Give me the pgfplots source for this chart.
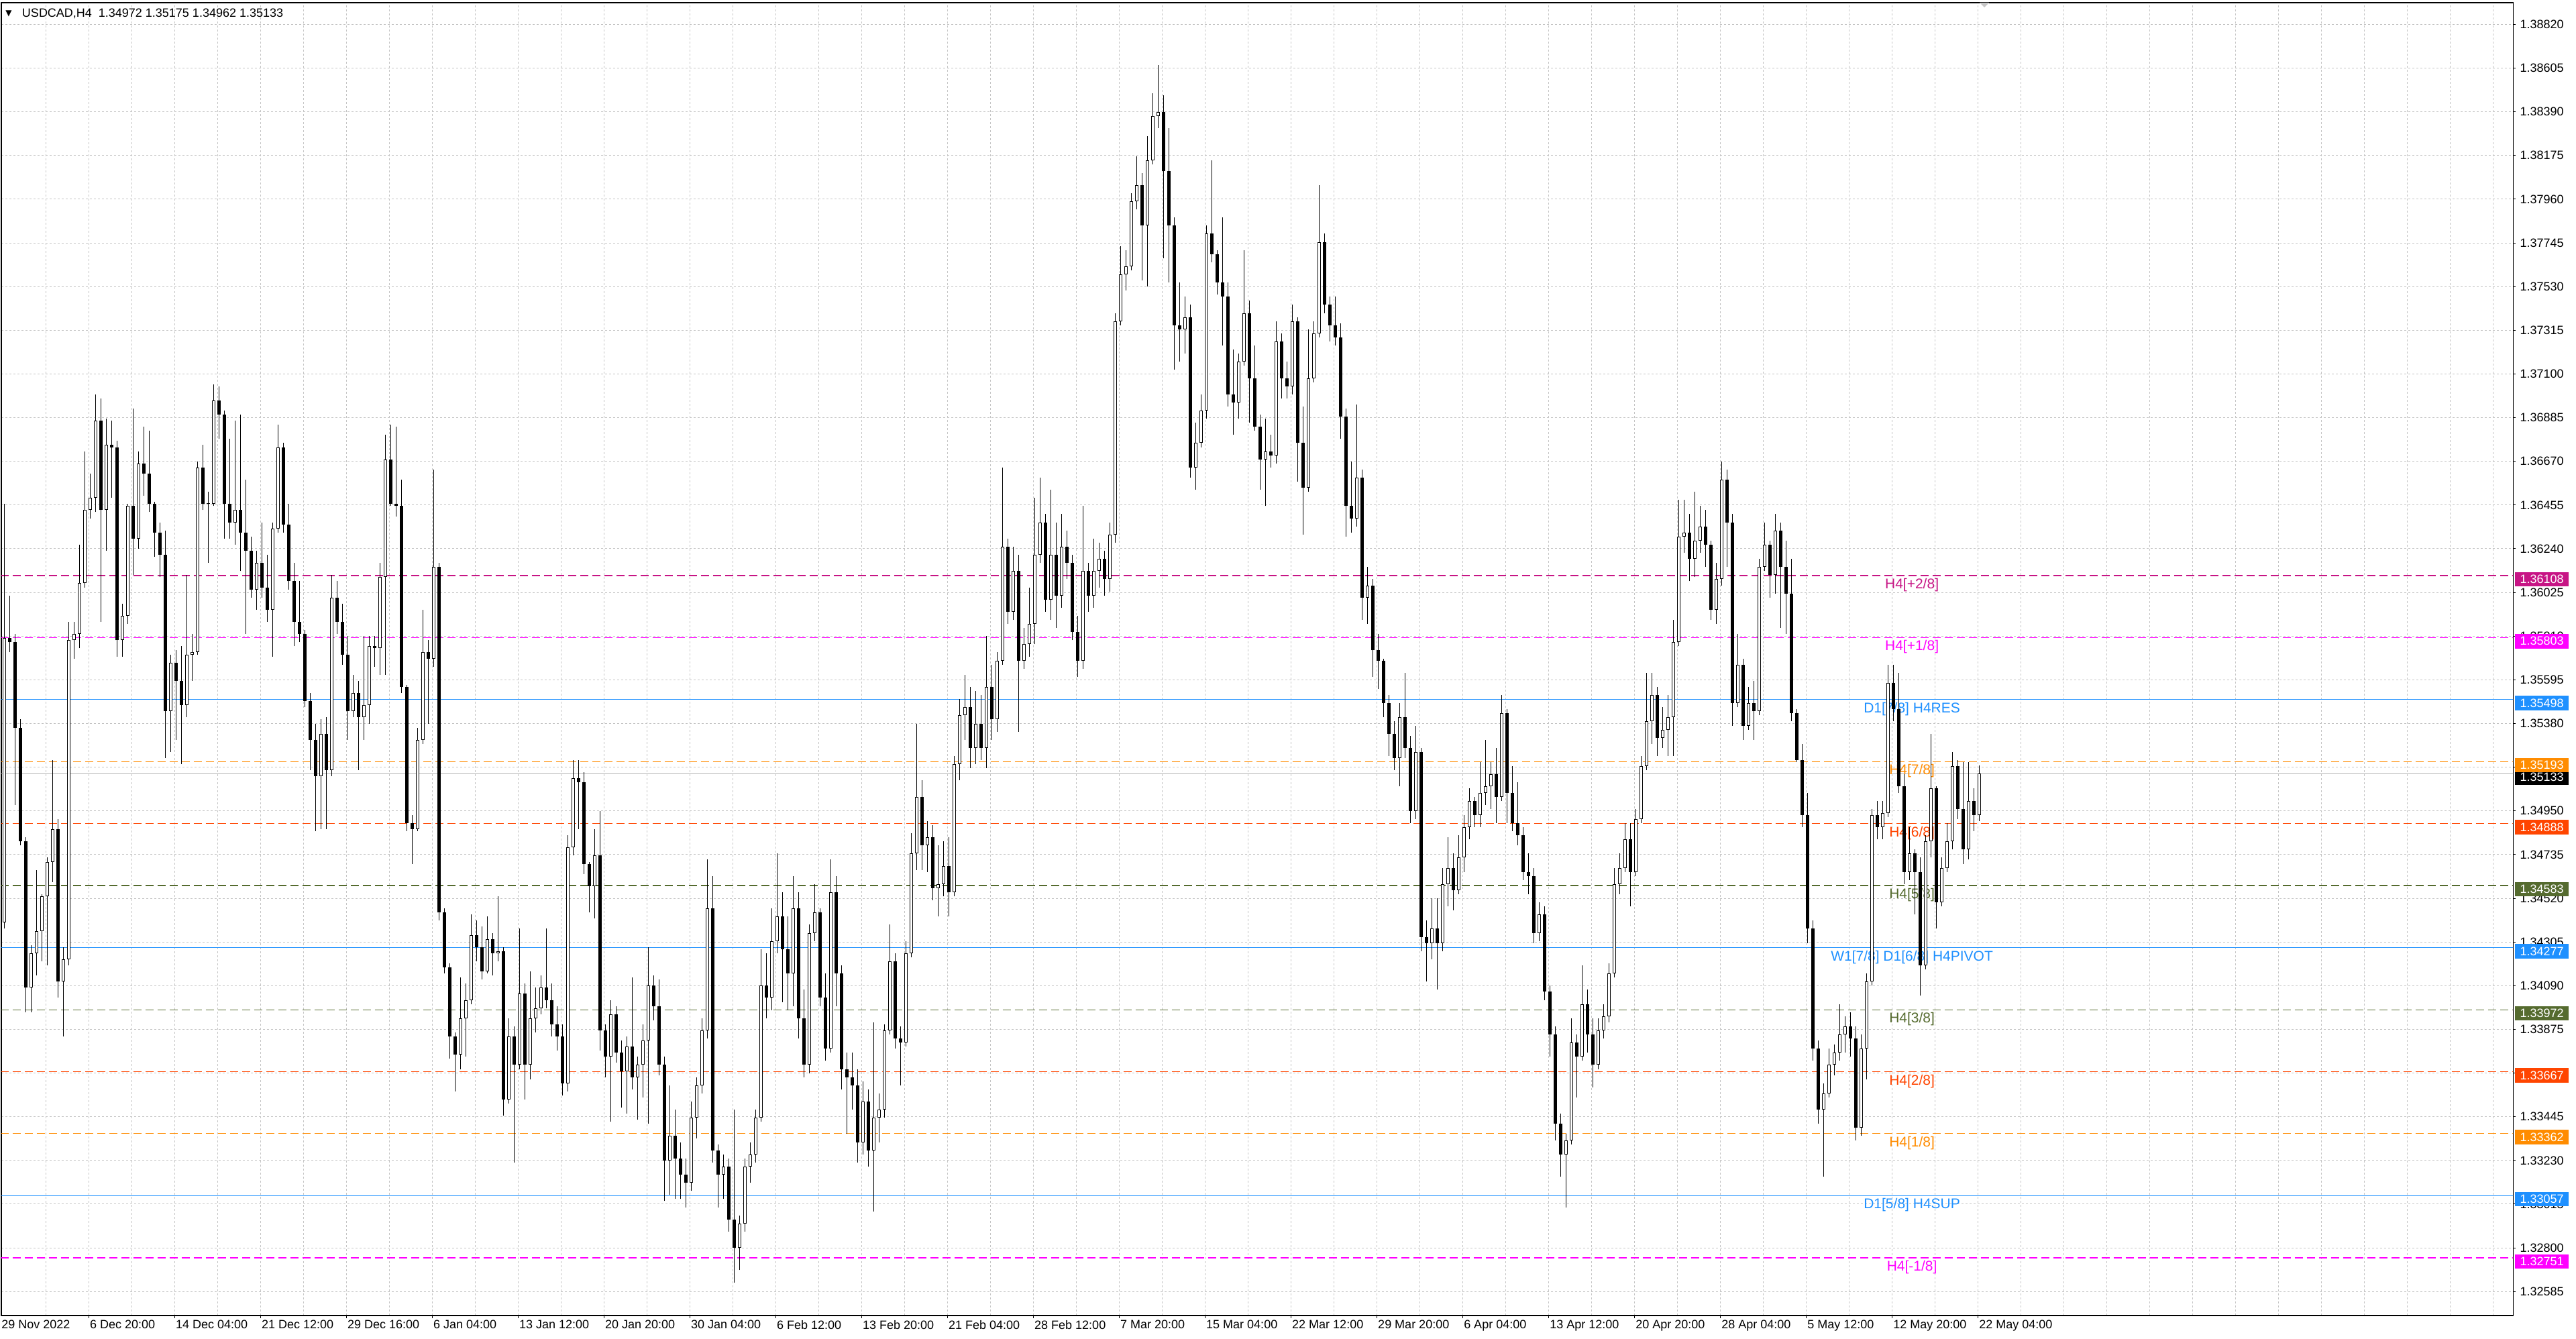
\documentclass[border=0pt]{standalone}
\usepackage{fontspec}
\setmainfont{Liberation Sans}
\newfontfamily\symfont{DejaVu Sans}
\usepackage{pgfplots}
\usepackage{pgfplotstable}
\pgfplotsset{compat=1.18}
\definecolor{mvr}{HTML}{C71585}
\definecolor{mag}{HTML}{FF00FF}
\definecolor{dblue}{HTML}{1E90FF}
\definecolor{dorange}{HTML}{FF8C00}
\definecolor{ored}{HTML}{FF4500}
\definecolor{olive}{HTML}{556B2F}
\definecolor{gridc}{HTML}{C4C4C4}
\definecolor{curc}{HTML}{B4B4B4}

\pgfplotstableread{
o h l c
1.3440 1.3646 1.3437 1.3580
1.3580 1.3601 1.3573 1.3578
1.3578 1.3582 1.3498 1.3536
1.3536 1.3540 1.3478 1.3480
1.3480 1.3482 1.3396 1.3408
1.3408 1.3429 1.3396 1.3425
1.3425 1.3466 1.3414 1.3436
1.3436 1.3454 1.3421 1.3453
1.3453 1.3472 1.3419 1.3470
1.3470 1.3520 1.3460 1.3486
1.3486 1.3491 1.3403 1.3411
1.3411 1.3428 1.3384 1.3422
1.3422 1.3588 1.3419 1.3579
1.3579 1.3588 1.3570 1.3582
1.3582 1.3626 1.3575 1.3607
1.3607 1.3672 1.3605 1.3643
1.3643 1.3661 1.3639 1.3649
1.3649 1.3700 1.3642 1.3687
1.3687 1.3698 1.3588 1.3643
1.3643 1.3688 1.3623 1.3675
1.3675 1.3687 1.3649 1.3674
1.3674 1.3677 1.3571 1.3579
1.3579 1.3597 1.3571 1.3591
1.3591 1.3646 1.3587 1.3645
1.3645 1.3693 1.3611 1.3629
1.3629 1.3672 1.3624 1.3666
1.3666 1.3684 1.3650 1.3661
1.3661 1.3682 1.3642 1.3646
1.3646 1.3647 1.3620 1.3632
1.3632 1.3637 1.3610 1.3621
1.3621 1.3633 1.3521 1.3544
1.3544 1.3572 1.3524 1.3568
1.3568 1.3574 1.3530 1.3559
1.3559 1.3576 1.3518 1.3547
1.3547 1.3611 1.3541 1.3572
1.3572 1.3582 1.3559 1.3573
1.3573 1.3667 1.3572 1.3664
1.3664 1.3675 1.3643 1.3646
1.3646 1.3652 1.3617 1.3646
1.3646 1.3705 1.3645 1.3697
1.3697 1.3704 1.3678 1.3690
1.3690 1.3692 1.3629 1.3646
1.3646 1.3678 1.3629 1.3637
1.3637 1.3687 1.3626 1.3643
1.3643 1.3690 1.3613 1.3632
1.3632 1.3658 1.3582 1.3623
1.3623 1.3630 1.3600 1.3604
1.3604 1.3623 1.3594 1.3617
1.3617 1.3637 1.3600 1.3605
1.3605 1.3621 1.3588 1.3594
1.3594 1.3637 1.3571 1.3634
1.3634 1.3685 1.3632 1.3674
1.3674 1.3676 1.3632 1.3636
1.3636 1.3646 1.3604 1.3608
1.3608 1.3617 1.3576 1.3588
1.3588 1.3608 1.3578 1.3582
1.3582 1.3584 1.3546 1.3549
1.3549 1.3553 1.3515 1.3530
1.3530 1.3538 1.3485 1.3512
1.3512 1.3540 1.3486 1.3533
1.3533 1.3541 1.3486 1.3515
1.3515 1.3611 1.3512 1.3600
1.3600 1.3608 1.3582 1.3588
1.3588 1.3597 1.3567 1.3572
1.3572 1.3581 1.3530 1.3544
1.3544 1.3562 1.3541 1.3553
1.3553 1.3559 1.3515 1.3541
1.3541 1.3581 1.3530 1.3547
1.3547 1.3581 1.3538 1.3576
1.3576 1.3581 1.3566 1.3575
1.3575 1.3617 1.3562 1.3610
1.3610 1.3680 1.3562 1.3668
1.3668 1.3685 1.3645 1.3646
1.3646 1.3684 1.3640 1.3645
1.3645 1.3658 1.3553 1.3556
1.3556 1.3557 1.3485 1.3489
1.3489 1.3493 1.3469 1.3486
1.3486 1.3536 1.3485 1.3530
1.3530 1.3594 1.3528 1.3573
1.3573 1.3579 1.3538 1.3570
1.3570 1.3663 1.3566 1.3615
1.3615 1.3617 1.3441 1.3445
1.3445 1.3447 1.3415 1.3418
1.3418 1.3420 1.3373 1.3384
1.3384 1.3386 1.3357 1.3375
1.3375 1.3413 1.3368 1.3393
1.3393 1.3410 1.3374 1.3402
1.3402 1.3444 1.3400 1.3434
1.3434 1.3441 1.3421 1.3428
1.3428 1.3438 1.3412 1.3416
1.3416 1.3443 1.3415 1.3432
1.3432 1.3435 1.3414 1.3425
1.3425 1.3453 1.3421 1.3426
1.3426 1.3428 1.3345 1.3353
1.3353 1.3393 1.3351 1.3384
1.3384 1.3389 1.3322 1.3370
1.3370 1.3437 1.3368 1.3405
1.3405 1.3410 1.3353 1.3370
1.3370 1.3416 1.3363 1.3393
1.3393 1.3408 1.3386 1.3398
1.3398 1.3414 1.3395 1.3408
1.3408 1.3437 1.3398 1.3402
1.3402 1.3410 1.3384 1.3390
1.3390 1.3399 1.3377 1.3384
1.3384 1.3390 1.3355 1.3361
1.3361 1.3483 1.3357 1.3477
1.3477 1.3520 1.3473 1.3511
1.3511 1.3520 1.3486 1.3509
1.3509 1.3514 1.3464 1.3469
1.3469 1.3470 1.3445 1.3458
1.3458 1.3486 1.3442 1.3473
1.3473 1.3495 1.3377 1.3387
1.3387 1.3390 1.3364 1.3374
1.3374 1.3402 1.3342 1.3395
1.3395 1.3399 1.3371 1.3376
1.3376 1.3382 1.3349 1.3367
1.3367 1.3384 1.3346 1.3379
1.3379 1.3413 1.3358 1.3364
1.3364 1.3374 1.3343 1.3370
1.3370 1.3390 1.3354 1.3382
1.3382 1.3428 1.3341 1.3409
1.3409 1.3414 1.3392 1.3399
1.3399 1.3412 1.3365 1.3370
1.3370 1.3374 1.3303 1.3323
1.3323 1.3360 1.3306 1.3335
1.3335 1.3348 1.3304 1.3324
1.3324 1.3332 1.3304 1.3316
1.3316 1.3324 1.3300 1.3312
1.3312 1.3352 1.3308 1.3344
1.3344 1.3364 1.3334 1.3360
1.3360 1.3393 1.3356 1.3387
1.3387 1.3471 1.3383 1.3447
1.3447 1.3463 1.3322 1.3328
1.3328 1.3331 1.3300 1.3316
1.3316 1.3326 1.3304 1.3320
1.3320 1.3324 1.3288 1.3294
1.3294 1.3348 1.3263 1.3280
1.3280 1.3296 1.3269 1.3292
1.3292 1.3324 1.3288 1.3320
1.3320 1.3332 1.3312 1.3326
1.3326 1.3348 1.3322 1.3344
1.3344 1.3427 1.3342 1.3409
1.3409 1.3425 1.3393 1.3403
1.3403 1.3447 1.3397 1.3431
1.3431 1.3474 1.3425 1.3443
1.3443 1.3455 1.3401 1.3427
1.3427 1.3443 1.3397 1.3415
1.3415 1.3463 1.3399 1.3447
1.3447 1.3455 1.3383 1.3393
1.3393 1.3407 1.3364 1.3370
1.3370 1.3439 1.3366 1.3435
1.3435 1.3459 1.3431 1.3445
1.3445 1.3447 1.3399 1.3403
1.3403 1.3415 1.3372 1.3378
1.3378 1.3471 1.3376 1.3455
1.3455 1.3463 1.3399 1.3415
1.3415 1.3419 1.3358 1.3368
1.3368 1.3376 1.3336 1.3364
1.3364 1.3376 1.3348 1.3360
1.3360 1.3368 1.3322 1.3332
1.3332 1.3362 1.3326 1.3352
1.3352 1.3358 1.3320 1.3328
1.3328 1.3391 1.3298 1.3344
1.3344 1.3356 1.3332 1.3348
1.3348 1.3390 1.3344 1.3387
1.3387 1.3439 1.3385 1.3421
1.3421 1.3425 1.3378 1.3383
1.3383 1.3389 1.3360 1.3381
1.3381 1.3431 1.3379 1.3425
1.3425 1.3484 1.3423 1.3474
1.3474 1.3538 1.3466 1.3502
1.3502 1.3510 1.3466 1.3478
1.3478 1.3490 1.3465 1.3482
1.3482 1.3488 1.3451 1.3457
1.3457 1.3478 1.3443 1.3459
1.3459 1.3480 1.3453 1.3468
1.3468 1.3482 1.3443 1.3455
1.3455 1.3522 1.3453 1.3518
1.3518 1.3550 1.3510 1.3542
1.3542 1.3562 1.3530 1.3546
1.3546 1.3556 1.3516 1.3526
1.3526 1.3554 1.3518 1.3538
1.3538 1.3552 1.3520 1.3526
1.3526 1.3581 1.3516 1.3556
1.3556 1.3567 1.3530 1.3540
1.3540 1.3573 1.3534 1.3569
1.3569 1.3664 1.3567 1.3625
1.3625 1.3629 1.3587 1.3593
1.3593 1.3625 1.3589 1.3613
1.3613 1.3621 1.3534 1.3569
1.3569 1.3585 1.3565 1.3577
1.3577 1.3605 1.3571 1.3587
1.3587 1.3649 1.3577 1.3621
1.3621 1.3659 1.3617 1.3637
1.3637 1.3641 1.3593 1.3599
1.3599 1.3653 1.3589 1.3621
1.3621 1.3637 1.3585 1.3601
1.3601 1.3641 1.3595 1.3625
1.3625 1.3633 1.3609 1.3617
1.3617 1.3621 1.3579 1.3583
1.3583 1.3591 1.3561 1.3569
1.3569 1.3645 1.3565 1.3613
1.3613 1.3617 1.3593 1.3601
1.3601 1.3629 1.3595 1.3613
1.3613 1.3627 1.3605 1.3619
1.3619 1.3623 1.3601 1.3609
1.3609 1.3637 1.3603 1.3631
1.3631 1.3740 1.3627 1.3736
1.3736 1.3773 1.3734 1.3759
1.3759 1.3771 1.3751 1.3763
1.3763 1.3799 1.3761 1.3795
1.3795 1.3817 1.3791 1.3803
1.3803 1.3809 1.3756 1.3783
1.3783 1.3827 1.3753 1.3815
1.3815 1.3848 1.3813 1.3837
1.3837 1.3862 1.3831 1.3839
1.3839 1.3847 1.3767 1.3810
1.3810 1.3831 1.3755 1.3783
1.3783 1.3787 1.3712 1.3734
1.3734 1.3755 1.3716 1.3732
1.3732 1.3748 1.3720 1.3738
1.3738 1.3744 1.3659 1.3664
1.3664 1.3686 1.3653 1.3676
1.3676 1.3700 1.3674 1.3692
1.3692 1.3783 1.3688 1.3779
1.3779 1.3815 1.3765 1.3769
1.3769 1.3771 1.3749 1.3755
1.3755 1.3787 1.3724 1.3748
1.3748 1.3755 1.3694 1.3700
1.3700 1.3722 1.3680 1.3696
1.3696 1.3720 1.3688 1.3716
1.3716 1.3771 1.3714 1.3740
1.3740 1.3746 1.3686 1.3708
1.3708 1.3724 1.3682 1.3684
1.3684 1.3690 1.3653 1.3668
1.3668 1.3688 1.3645 1.3672
1.3672 1.3680 1.3664 1.3670
1.3670 1.3736 1.3666 1.3726
1.3726 1.3730 1.3698 1.3708
1.3708 1.3716 1.3698 1.3704
1.3704 1.3744 1.3700 1.3736
1.3736 1.3738 1.3657 1.3676
1.3676 1.3694 1.3631 1.3654
1.3654 1.3732 1.3652 1.3708
1.3708 1.3736 1.3706 1.3730
1.3730 1.3803 1.3728 1.3775
1.3775 1.3779 1.3740 1.3744
1.3744 1.3748 1.3726 1.3734
1.3734 1.3748 1.3724 1.3728
1.3728 1.3735 1.3678 1.3689
1.3689 1.3693 1.3630 1.3645
1.3645 1.3667 1.3632 1.3639
1.3639 1.3695 1.3635 1.3659
1.3659 1.3663 1.3589 1.3600
1.3600 1.3615 1.3587 1.3606
1.3606 1.3609 1.3561 1.3574
1.3574 1.3582 1.3555 1.3569
1.3569 1.3570 1.3541 1.3548
1.3548 1.3552 1.3522 1.3533
1.3533 1.3539 1.3515 1.3521
1.3521 1.3548 1.3507 1.3541
1.3541 1.3563 1.3521 1.3526
1.3526 1.3532 1.3489 1.3495
1.3495 1.3537 1.3491 1.3524
1.3524 1.3526 1.3426 1.3433
1.3433 1.3441 1.3411 1.3430
1.3430 1.3452 1.3422 1.3437
1.3437 1.3452 1.3407 1.3430
1.3430 1.3467 1.3426 1.3459
1.3459 1.3482 1.3448 1.3467
1.3467 1.3474 1.3446 1.3456
1.3456 1.3483 1.3454 1.3472
1.3472 1.3493 1.3465 1.3487
1.3487 1.3506 1.3481 1.3500
1.3500 1.3502 1.3487 1.3493
1.3493 1.3519 1.3487 1.3504
1.3504 1.3530 1.3498 1.3507
1.3507 1.3519 1.3496 1.3513
1.3513 1.3526 1.3489 1.3502
1.3502 1.3552 1.3500 1.3543
1.3543 1.3545 1.3489 1.3504
1.3504 1.3517 1.3485 1.3489
1.3489 1.3509 1.3478 1.3483
1.3483 1.3487 1.3461 1.3465
1.3465 1.3474 1.3454 1.3463
1.3463 1.3467 1.3430 1.3435
1.3435 1.3450 1.3431 1.3444
1.3444 1.3448 1.3402 1.3406
1.3406 1.3409 1.3374 1.3385
1.3385 1.3389 1.3333 1.3341
1.3341 1.3346 1.3315 1.3326
1.3326 1.3336 1.3300 1.3333
1.3333 1.3393 1.3331 1.3381
1.3381 1.3385 1.3354 1.3374
1.3374 1.3419 1.3372 1.3400
1.3400 1.3407 1.3376 1.3385
1.3385 1.3393 1.3359 1.3370
1.3370 1.3393 1.3368 1.3387
1.3387 1.3400 1.3383 1.3394
1.3394 1.3420 1.3391 1.3415
1.3415 1.3467 1.3413 1.3459
1.3459 1.3474 1.3454 1.3467
1.3467 1.3489 1.3465 1.3481
1.3481 1.3489 1.3448 1.3465
1.3465 1.3496 1.3463 1.3491
1.3491 1.3522 1.3489 1.3517
1.3517 1.3563 1.3515 1.3539
1.3539 1.3563 1.3528 1.3552
1.3552 1.3556 1.3522 1.3531
1.3531 1.3546 1.3526 1.3535
1.3535 1.3552 1.3522 1.3541
1.3541 1.3589 1.3522 1.3578
1.3578 1.3648 1.3576 1.3630
1.3630 1.3648 1.3622 1.3632
1.3632 1.3641 1.3608 1.3619
1.3619 1.3652 1.3610 1.3628
1.3628 1.3645 1.3622 1.3635
1.3635 1.3643 1.3615 1.3626
1.3626 1.3628 1.3589 1.3594
1.3594 1.3617 1.3587 1.3609
1.3609 1.3667 1.3606 1.3658
1.3658 1.3663 1.3615 1.3637
1.3637 1.3641 1.3537 1.3548
1.3548 1.3582 1.3546 1.3567
1.3567 1.3570 1.3530 1.3537
1.3537 1.3556 1.3535 1.3548
1.3548 1.3559 1.3530 1.3544
1.3544 1.3619 1.3542 1.3615
1.3615 1.3637 1.3613 1.3626
1.3626 1.3628 1.3600 1.3611
1.3611 1.3641 1.3602 1.3633
1.3633 1.3637 1.3585 1.3615
1.3615 1.3628 1.3582 1.3602
1.3602 1.3619 1.3539 1.3543
1.3543 1.3545 1.3519 1.3520
1.3520 1.3528 1.3487 1.3493
1.3493 1.3504 1.3430 1.3437
1.3437 1.3441 1.3372 1.3378
1.3378 1.3382 1.3341 1.3348
1.3348 1.3361 1.3315 1.3356
1.3356 1.3378 1.3354 1.3370
1.3370 1.3380 1.3365 1.3376
1.3376 1.3400 1.3372 1.3385
1.3385 1.3394 1.3376 1.3389
1.3389 1.3396 1.3374 1.3383
1.3383 1.3389 1.3333 1.3339
1.3339 1.3385 1.3335 1.3378
1.3378 1.3415 1.3363 1.3411
1.3411 1.3496 1.3409 1.3493
1.3493 1.3500 1.3481 1.3487
1.3487 1.3500 1.3481 1.3494
1.3494 1.3567 1.3492 1.3558
1.3558 1.3567 1.3539 1.3545
1.3545 1.3563 1.3504 1.3507
1.3507 1.3513 1.3459 1.3465
1.3465 1.3487 1.3461 1.3474
1.3474 1.3476 1.3444 1.3465
1.3465 1.3472 1.3404 1.3419
1.3419 1.3483 1.3417 1.3480
1.3480 1.3533 1.3472 1.3506
1.3506 1.3507 1.3437 1.3450
1.3450 1.3472 1.3448 1.3467
1.3467 1.3489 1.3465 1.3480
1.3480 1.3524 1.3476 1.3517
1.3517 1.3520 1.3491 1.3496
1.3496 1.3519 1.3469 1.3476
1.3476 1.3519 1.3471 1.3500
1.3500 1.3506 1.3485 1.3493
1.3493 1.35175 1.3490 1.35133
}\candles

\begin{document}
\begin{tikzpicture}
\path[use as bounding box, fill=white] (0,0) rectangle (1920pt,998pt);
\begin{axis}[
  at={(1pt,17.5pt)}, anchor=south west,
  scale only axis, width=1872pt, height=978.5pt,
  xmin=-0.675, xmax=935.3, ymin=1.32467, ymax=1.38927,
  clip mode=individual,
  axis line style={black, line width=0.6pt},
  xtick={32,64,...,736},
  xticklabels={6 Dec 20:00,14 Dec 04:00,21 Dec 12:00,29 Dec 16:00,6 Jan 04:00,13 Jan 12:00,20 Jan 20:00,30 Jan 04:00,6 Feb 12:00,13 Feb 20:00,21 Feb 04:00,28 Feb 12:00,7 Mar 20:00,15 Mar 04:00,22 Mar 12:00,29 Mar 20:00,6 Apr 04:00,13 Apr 12:00,20 Apr 20:00,28 Apr 04:00,5 May 12:00,12 May 20:00,22 May 04:00},
  minor xtick={16,32,...,928},
  ytick={1.32585,1.32800,1.33015,1.33230,1.33445,1.33660,1.33875,1.34090,1.34305,1.34520,1.34735,1.34950,1.35165,1.35380,1.35595,1.35810,1.36025,1.36240,1.36455,1.36670,1.36885,1.37100,1.37315,1.37530,1.37745,1.37960,1.38175,1.38390,1.38605,1.38820},
  yticklabels={1.32585,1.32800,1.33015,1.33230,1.33445,1.33660,1.33875,1.34090,1.34305,1.34520,1.34735,1.34950,1.35165,1.35380,1.35595,1.35810,1.36025,1.36240,1.36455,1.36670,1.36885,1.37100,1.37315,1.37530,1.37745,1.37960,1.38175,1.38390,1.38605,1.38820},
  xtick pos=left, ytick pos=right, yticklabel pos=right,
  tick align=outside, major tick length=2pt, minor tick length=0pt,
  tick style={black, line width=0.5pt},
  grid=both,
  major grid style={gridc, line width=0.5pt, dash pattern=on 1.5pt off 1.5pt},
  minor grid style={gridc, line width=0.5pt, dash pattern=on 1.5pt off 1.5pt},
  xticklabel style={anchor=north west, inner sep=0pt, font=\fontsize{9}{10}\selectfont, xshift=0.5pt, yshift=-1.5pt},
  yticklabel style={anchor=west, inner sep=0pt, font=\fontsize{9}{10}\selectfont, xshift=3pt},
]
% level lines
\addplot[mvr, line width=0.55pt, dash pattern=on 6pt off 3pt, forget plot] coordinates {(-1,1.36108) (936,1.36108)};
\addplot[mag, line width=0.55pt, dash pattern=on 6pt off 3pt, forget plot] coordinates {(-1,1.35803) (936,1.35803)};
\addplot[dblue, line width=0.55pt, forget plot] coordinates {(-1,1.35498) (936,1.35498)};
\addplot[dorange, line width=0.55pt, dash pattern=on 6pt off 3pt, forget plot] coordinates {(-1,1.35193) (936,1.35193)};
\addplot[curc, line width=0.55pt, forget plot] coordinates {(-1,1.35133) (936,1.35133)};
\addplot[ored, line width=0.55pt, dash pattern=on 6pt off 3pt, forget plot] coordinates {(-1,1.34888) (936,1.34888)};
\addplot[olive, line width=0.55pt, dash pattern=on 6pt off 3pt, forget plot] coordinates {(-1,1.34583) (936,1.34583)};
\addplot[dblue, line width=0.55pt, forget plot] coordinates {(-1,1.34277) (936,1.34277)};
\addplot[olive, line width=0.55pt, dash pattern=on 6pt off 3pt, forget plot] coordinates {(-1,1.33972) (936,1.33972)};
\addplot[ored, line width=0.55pt, dash pattern=on 6pt off 3pt, forget plot] coordinates {(-1,1.33667) (936,1.33667)};
\addplot[dorange, line width=0.55pt, dash pattern=on 6pt off 3pt, forget plot] coordinates {(-1,1.33362) (936,1.33362)};
\addplot[dblue, line width=0.55pt, forget plot] coordinates {(-1,1.33057) (936,1.33057)};
\addplot[mag, line width=0.55pt, dash pattern=on 6pt off 3pt, forget plot] coordinates {(-1,1.32751) (936,1.32751)};
% level labels
\tikzset{lvl/.style={anchor=north, inner sep=0pt, yshift=-2pt, font=\fontsize{10.5}{12}\selectfont}}
\node[lvl, text=mvr] at (axis cs:711.3,1.36108) {H4[+2/8]};
\node[lvl, text=mag] at (axis cs:711.3,1.35803) {H4[+1/8]};
\node[lvl, text=dblue] at (axis cs:711.3,1.35498) {D1[7/8] H4RES};
\node[lvl, text=dorange] at (axis cs:711.3,1.35193) {H4[7/8]};
\node[lvl, text=ored] at (axis cs:711.3,1.34888) {H4[6/8]};
\node[lvl, text=olive] at (axis cs:711.3,1.34583) {H4[5/8]};
\node[lvl, text=dblue] at (axis cs:711.3,1.34277) {W1[7/8] D1[6/8] H4PIVOT};
\node[lvl, text=olive] at (axis cs:711.3,1.33972) {H4[3/8]};
\node[lvl, text=ored] at (axis cs:711.3,1.33667) {H4[2/8]};
\node[lvl, text=dorange] at (axis cs:711.3,1.33362) {H4[1/8]};
\node[lvl, text=dblue] at (axis cs:711.3,1.33057) {D1[5/8] H4SUP};
\node[lvl, text=mag] at (axis cs:711.3,1.32751) {H4[-1/8]};
% candles: wicks
\addplot[draw=none, forget plot, error bars/.cd, y dir=plus, y explicit, error mark=none,
  error bar style={draw=black, solid, line width=0.5pt}]
  table[x expr=2*\coordindex+0.5, y=l, y error expr=\thisrow{h}-\thisrow{l}] {\candles};
% bodies (outline)
\addplot[draw=none, forget plot, error bars/.cd, y dir=plus, y explicit, error mark=none,
  error bar style={draw=black, solid, line width=2.5pt}]
  table[x expr=2*\coordindex+0.5, y expr={min(\thisrow{o},\thisrow{c})}, y error expr={max(abs(\thisrow{c}-\thisrow{o}),0.00004)}] {\candles};
% bodies (white inside for up candles)
\addplot[draw=none, forget plot, restrict y to domain=1:2, error bars/.cd, y dir=plus, y explicit, error mark=none,
  error bar style={draw=white, solid, line width=1.5pt}]
  table[x expr=2*\coordindex+0.5, y expr={ifthenelse(\thisrow{c}-\thisrow{o}>0.00007,\thisrow{o}+0.000033,0)}, y error expr={\thisrow{c}-\thisrow{o}-0.000066}] {\candles};
% texts
\node[anchor=north west, inner sep=0pt, font=\fontsize{9}{10}\selectfont, yshift=-3.5pt] at (rel axis cs:0,0) {29 Nov 2022};
\node[anchor=center, inner sep=0pt, font=\symfont\fontsize{6}{7}\selectfont, xshift=5.5pt, yshift=-8pt] at (rel axis cs:0,1) {▼};
\node[anchor=west, inner sep=0pt, font=\fontsize{9}{10}\selectfont, xshift=15.3pt, yshift=-8pt] at (rel axis cs:0,1) {USDCAD,H4\hspace{0.55em}1.34972 1.35175 1.34962 1.35133};
% coordinates for price boxes
\coordinate (b1) at (axis cs:935.3,1.36108);
\coordinate (b2) at (axis cs:935.3,1.35803);
\coordinate (b3) at (axis cs:935.3,1.35498);
\coordinate (b4) at (axis cs:935.3,1.35193);
\coordinate (b0) at (axis cs:935.3,1.35133);
\coordinate (b5) at (axis cs:935.3,1.34888);
\coordinate (b6) at (axis cs:935.3,1.34583);
\coordinate (b7) at (axis cs:935.3,1.34277);
\coordinate (b8) at (axis cs:935.3,1.33972);
\coordinate (b9) at (axis cs:935.3,1.33667);
\coordinate (b10) at (axis cs:935.3,1.33362);
\coordinate (b11) at (axis cs:935.3,1.33057);
\coordinate (b12) at (axis cs:935.3,1.32751);
\end{axis}
\tikzset{pbox/.style={anchor=west, xshift=1pt, yshift=-2.7pt, inner xsep=4pt, inner ysep=0pt, minimum height=10.8pt, text width=32pt, align=left, text=white, font=\fontsize{9}{10}\selectfont}}
\node[pbox, fill=mvr] at (b1) {1.36108};
\node[pbox, fill=mag] at (b2) {1.35803};
\node[pbox, fill=dblue] at (b3) {1.35498};
\node[pbox, fill=black] at (b0) {1.35133};
\node[pbox, fill=dorange] at (b4) {1.35193};
\node[pbox, fill=ored] at (b5) {1.34888};
\node[pbox, fill=olive] at (b6) {1.34583};
\node[pbox, fill=dblue] at (b7) {1.34277};
\node[pbox, fill=olive] at (b8) {1.33972};
\node[pbox, fill=ored] at (b9) {1.33667};
\node[pbox, fill=dorange] at (b10) {1.33362};
\node[pbox, fill=dblue] at (b11) {1.33057};
\node[pbox, fill=mag] at (b12) {1.32751};
\fill[gray!45] (1475.5pt,996pt) -- (1482.5pt,996pt) -- (1479pt,992.5pt) -- cycle;
\end{tikzpicture}
\end{document}
